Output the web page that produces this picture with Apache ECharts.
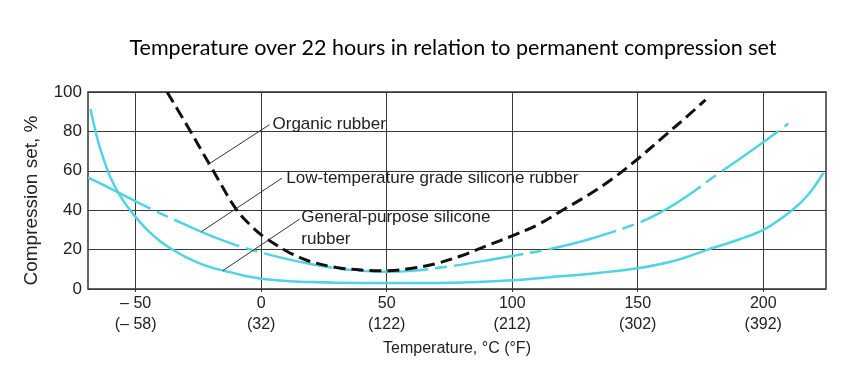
<!DOCTYPE html>
<html>
<head>
<meta charset="utf-8">
<script src="https://cdn.jsdelivr.net/npm/echarts@6/dist/echarts.min.js"></script>
<style>
html,body{margin:0;padding:0;background:#fff;}
#c{width:864px;height:378px;}
</style>
</head>
<body>
<div id="c"></div>
<script>
// ---- Data ----
const titleText = 'Temperature over 22 hours in relation to permanent compression set';
const xTickValues = [-50, 0, 50, 100, 150, 200];
const xTickLabels = ['\u2013 50\n(\u2013 58)', '0\n(32)', '50\n(122)', '100\n(212)', '150\n(302)', '200\n(392)'];
const yTickValues = [0, 20, 40, 60, 80, 100];

// Organic rubber (black dashed)
const organicTemp = [-37.5, -30, -20, -10, -4, 0, 4, 10, 15, 20, 30, 40, 50, 60, 70, 80, 90, 100, 110, 120, 130, 140, 150, 160, 170, 177];
const organicSet  = [100, 84, 62, 40.5, 32, 27.5, 24, 19.3, 16.2, 13.8, 10.9, 9.6, 9.3, 10.5, 13, 17, 22, 27, 32.5, 40, 47.5, 56, 66, 77, 88, 96];

// Low-temperature grade silicone rubber (cyan, broken)
const lowTempTemp = [-69, -60, -50, -40, -30, -20, -10, 0, 10, 20, 30, 40, 50, 60, 75, 90, 100, 115, 130, 150, 160, 170, 182, 190, 200, 210];
const lowTempSet  = [56.5, 51, 44.5, 38.3, 32.5, 27, 22.3, 18.5, 15.3, 12.6, 10.5, 9.2, 8.7, 9.2, 11.5, 14.5, 16.8, 20.3, 25, 33.4, 39.5, 47.5, 58.5, 65.5, 74.5, 84];

// General-purpose silicone rubber (cyan, solid)
const generalTemp = [-68, -65, -62, -60, -57, -54, -50, -45, -40, -35, -30, -25, -20, -15, -10, -5, 0, 10, 20, 30, 50, 75, 100, 115, 135, 150, 165, 178, 190, 200, 211, 218, 224];
const generalSet  = [91.4, 75, 63, 56.5, 49, 43, 36.5, 29.5, 24, 19.8, 16.2, 13.3, 11, 9.3, 7.8, 6.3, 5.2, 4, 3.5, 3.2, 3, 3.2, 4.5, 6, 8.3, 10.5, 14.5, 20, 25, 30, 39.5, 48, 59];

// Annotation labels and leader lines [fromTemp, fromSet, toTemp, toSet]
const annoTexts = ['Organic rubber', 'Low-temperature grade silicone rubber', 'General-purpose silicone\nrubber'];
const annoLeaders = [[-21.4, 63, 3.3, 83.4], [-23.7, 29.2, 8.3, 56.3], [-15.3, 9.3, 15.3, 35.5]];
const annoTextAt = [[4.5, 83.4], [10, 56.3], [16, 31]];

function pairs(xs, ys) { return xs.map((x, i) => [x, ys[i]]); }

const CYAN = '#4fd4e4';
const TXT = '#222';
const NARROW = "'Liberation Sans Narrow', 'Liberation Sans', Arial, sans-serif";
const SANS = "'Liberation Sans', Arial, sans-serif";

function annoMark(i) {
  return {
    markLine: {
      silent: true, symbol: ['none', 'none'], animation: false,
      lineStyle: { color: '#333', width: 1, type: 'solid' },
      label: { show: false },
      data: [[{ coord: [annoLeaders[i][0], annoLeaders[i][1]] }, { coord: [annoLeaders[i][2], annoLeaders[i][3]] }]]
    },
    markPoint: {
      silent: true, animation: false, symbol: 'circle', symbolSize: 0,
      label: {
        show: true, position: 'right', distance: 0, formatter: annoTexts[i],
        color: TXT, fontFamily: SANS, fontSize: 17, lineHeight: 22, align: 'left'
      },
      data: [{ coord: annoTextAt[i] }]
    }
  };
}

const chart = echarts.init(document.getElementById('c'), null, { renderer: 'canvas' });
chart.setOption({
  animation: false,
  backgroundColor: '#fff',
  title: {
    text: titleText, left: 448, top: 32, textAlign: 'center',
    textStyle: { fontFamily: "Lato, 'Open Sans', sans-serif", fontWeight: 'normal', fontSize: 21.5, color: '#000' }
  },
  grid: { left: 88, right: 38, top: 92, bottom: 89, show: true, borderColor: '#333', borderWidth: 1.5, backgroundColor: 'transparent' },
  xAxis: {
    type: 'value', min: -69, max: 225,
    name: 'Temperature, \u00B0C (\u00B0F)', nameLocation: 'middle', nameGap: 52,
    nameTextStyle: { fontFamily: NARROW, fontSize: 16, color: TXT },
    axisLine: { show: false },
    axisTick: { show: true, customValues: xTickValues, length: 3, lineStyle: { color: '#333' } },
    axisLabel: {
      customValues: xTickValues, margin: 4, lineHeight: 21,
      fontFamily: NARROW, fontSize: 16, color: TXT,
      formatter: v => xTickLabels[xTickValues.indexOf(v)]
    },
    splitLine: { show: true, lineStyle: { color: '#3a3a3a', width: 1 } }
  },
  yAxis: {
    type: 'value', min: 0, max: 100, interval: 20,
    name: 'Compression set, %', nameLocation: 'middle', nameGap: 47,
    nameTextStyle: { fontFamily: SANS, fontSize: 19, color: TXT, padding: [0, 20, 0, 0] },
    axisLine: { show: false },
    axisTick: { show: true, length: 3, lineStyle: { color: '#333' } },
    axisLabel: { margin: 6, fontFamily: NARROW, fontSize: 17, color: TXT },
    splitLine: { show: true, lineStyle: { color: '#3a3a3a', width: 1 } }
  },
  series: [
    Object.assign({
      name: 'Organic rubber', type: 'line', data: pairs(organicTemp, organicSet),
      showSymbol: false, smooth: 0.35, clip: true,
      lineStyle: { color: '#111', width: 3, type: [12, 6] }, z: 4
    }, annoMark(0)),
    Object.assign({
      name: 'Low-temperature grade silicone rubber', type: 'line', data: pairs(lowTempTemp, lowTempSet),
      showSymbol: false, smooth: 0.35, clip: true,
      lineStyle: { color: CYAN, width: 2.5, type: [70, 7, 12, 7] }, z: 3
    }, annoMark(1)),
    Object.assign({
      name: 'General-purpose silicone rubber', type: 'line', data: pairs(generalTemp, generalSet),
      showSymbol: false, smooth: 0.35, clip: true,
      lineStyle: { color: CYAN, width: 2.5 }, z: 3
    }, annoMark(2))
  ]
});
</script>
</body>
</html>
